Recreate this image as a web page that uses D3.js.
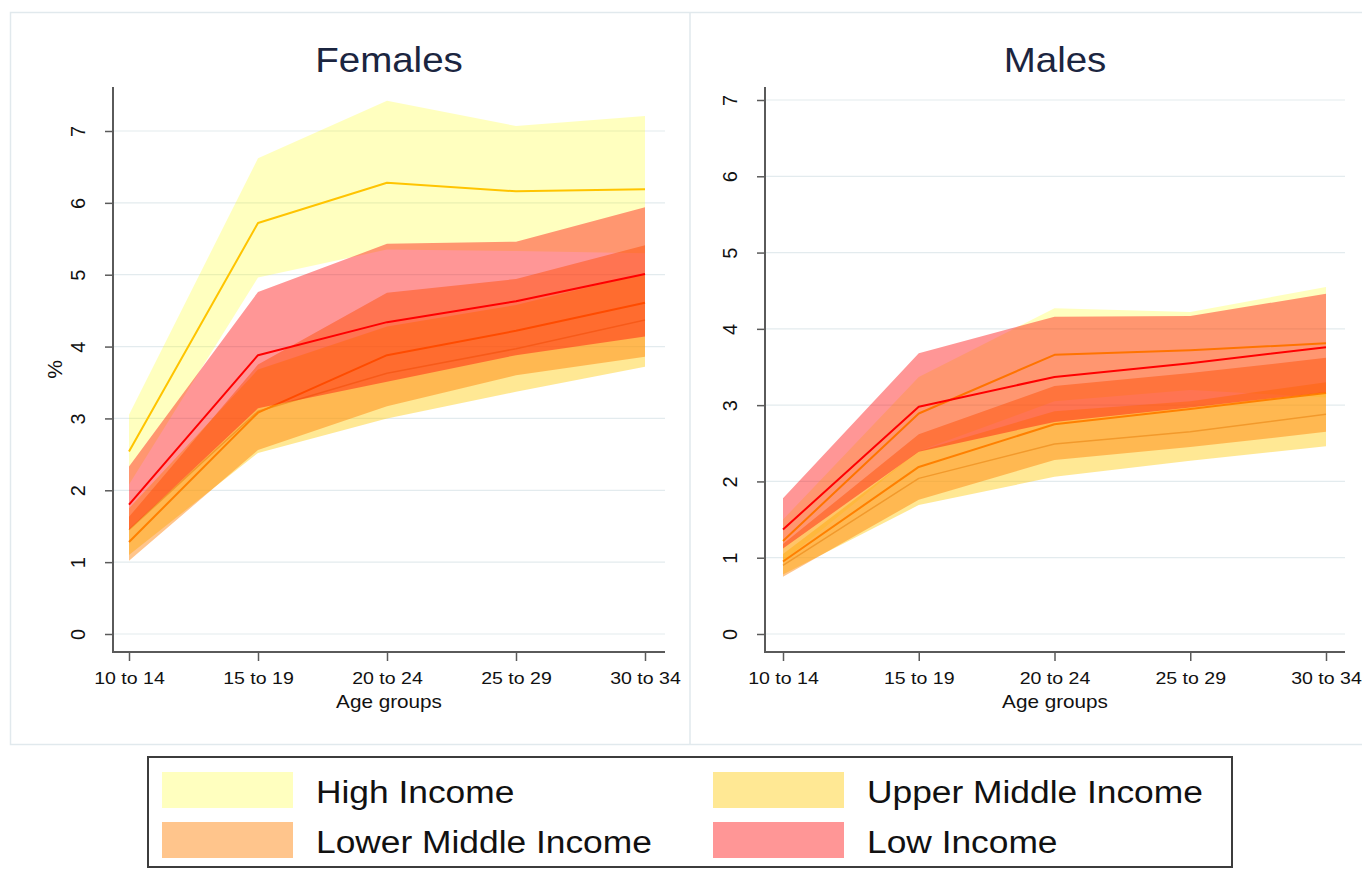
<!DOCTYPE html>
<html><head><meta charset="utf-8">
<script src="https://cdn.jsdelivr.net/npm/d3@7/dist/d3.min.js"></script>
<style>
body{margin:0;background:#fff;}
svg{display:block;font-family:"Liberation Sans",Arial,sans-serif;}
</style>
</head><body>
<svg id="chart" width="1362" height="870"></svg>
<script>
// ---------- DATA ----------
const ageGroups = ["10 to 14","15 to 19","20 to 24","25 to 29","30 to 34"];
const yTickValues = [0,1,2,3,4,5,6,7];
const incomeGroups = ["High Income","Upper Middle Income","Lower Middle Income","Low Income"];
const panelTitles = ["Females","Males"];
const xAxisTitle = "Age groups";
const yAxisTitle = "%";

// Females
const femHighMean = [2.54, 5.72, 6.28, 6.16, 6.19];
const femHighLow  = [2.08, 4.96, 5.35, 5.33, 5.30];
const femHighHigh = [3.05, 6.62, 7.42, 7.07, 7.21];
const femUpperMidMean = [1.45, 3.10, 3.63, 3.97, 4.37];
const femUpperMidLow  = [1.10, 2.52, 3.00, 3.37, 3.72];
const femUpperMidHigh = [1.75, 3.68, 4.28, 4.58, 5.02];
const femLowerMidMean = [1.28, 3.08, 3.88, 4.22, 4.61];
const femLowerMidLow  = [1.02, 2.56, 3.17, 3.60, 3.86];
const femLowerMidHigh = [1.63, 3.75, 4.75, 4.94, 5.41];
const femLowMean = [1.80, 3.88, 4.34, 4.63, 5.01];
const femLowLow  = [1.45, 3.14, 3.51, 3.88, 4.14];
const femLowHigh = [2.33, 4.76, 5.43, 5.46, 5.94];

// Males
const maleHighMean = [1.22, 2.89, 3.66, 3.72, 3.81];
const maleHighLow  = [0.95, 2.40, 3.05, 3.20, 3.10];
const maleHighHigh = [1.50, 3.37, 4.27, 4.22, 4.55];
const maleUpperMidMean = [0.90, 2.04, 2.49, 2.65, 2.88];
const maleUpperMidLow  = [0.78, 1.69, 2.06, 2.27, 2.46];
const maleUpperMidHigh = [1.05, 2.40, 2.92, 3.05, 3.30];
const maleLowerMidMean = [0.95, 2.19, 2.75, 2.95, 3.16];
const maleLowerMidLow  = [0.75, 1.76, 2.28, 2.45, 2.65];
const maleLowerMidHigh = [1.18, 2.62, 3.25, 3.42, 3.62];
const maleLowMean = [1.37, 2.98, 3.37, 3.55, 3.76];
const maleLowLow  = [1.12, 2.39, 2.78, 2.97, 3.17];
const maleLowHigh = [1.78, 3.68, 4.16, 4.17, 4.46];

// ---------- STYLE ----------
const bandFill   = ["#ffff00","#ffc800","#ff7f00","#ff0000"];
const bandAlpha  = [0.25, 0.42, 0.45, 0.41];
const lineColor  = ["#ffc400","#e8b050","#ff8000","#ff0000"];
const lineWidth  = [2, 1.5, 2, 2];

const femSeries = [
  {mean:femHighMean, lo:femHighLow, hi:femHighHigh},
  {mean:femUpperMidMean, lo:femUpperMidLow, hi:femUpperMidHigh},
  {mean:femLowerMidMean, lo:femLowerMidLow, hi:femLowerMidHigh},
  {mean:femLowMean, lo:femLowLow, hi:femLowHigh}
];
const maleSeries = [
  {mean:maleHighMean, lo:maleHighLow, hi:maleHighHigh},
  {mean:maleUpperMidMean, lo:maleUpperMidLow, hi:maleUpperMidHigh},
  {mean:maleLowerMidMean, lo:maleLowerMidLow, hi:maleLowerMidHigh},
  {mean:maleLowMean, lo:maleLowLow, hi:maleLowHigh}
];

const svg = d3.select("#chart");
svg.append("rect").attr("width",1362).attr("height",870).attr("fill","#fff");

// outer frame & divider
svg.append("rect").attr("x",10.5).attr("y",12.5).attr("width",1380).attr("height",732)
  .attr("fill","none").attr("stroke","#e1e9ed").attr("stroke-width",1.5);
svg.append("line").attr("x1",690).attr("x2",690).attr("y1",12).attr("y2",745)
  .attr("stroke","#e1e9ed").attr("stroke-width",1.5);

const panels = [
  {series:femSeries, title:panelTitles[0], xr:[129,645], yr:[634,131], axisX:113, right:665, top:87, yLabel:true},
  {series:maleSeries, title:panelTitles[1], xr:[783,1326], yr:[634,100], axisX:765, right:1345, top:87, yLabel:false}
];
const axisY = 652;
const axisColor = "#5a5a5a";
const textColor = "#111";
const stretch = 1.15;

panels.forEach(p => {
  const g = svg.append("g");
  const x = d3.scalePoint().domain(ageGroups).range(p.xr);
  const y = d3.scaleLinear().domain([0,7]).range(p.yr);

  // gridlines
  g.selectAll(".grid").data(yTickValues).join("line")
    .attr("x1",p.axisX).attr("x2",p.right)
    .attr("y1",d=>y(d)).attr("y2",d=>y(d))
    .attr("stroke","#e3ebee").attr("stroke-width",1.2);

  // bands and lines, drawn group by group
  p.series.forEach((s,i) => {
    const rows = ageGroups.map((a,k)=>({a, m:s.mean[k], lo:s.lo[k], hi:s.hi[k]}));
    const area = d3.area().x(d=>x(d.a)).y0(d=>y(d.lo)).y1(d=>y(d.hi));
    g.append("path").datum(rows).attr("d",area)
      .attr("fill",bandFill[i]).attr("fill-opacity",bandAlpha[i]).attr("stroke","none");
    const line = d3.line().x(d=>x(d.a)).y(d=>y(d.m));
    g.append("path").datum(rows).attr("d",line)
      .attr("fill","none").attr("stroke",lineColor[i]).attr("stroke-width",lineWidth[i])
      .attr("stroke-linejoin","round");
  });

  // x axis
  const xa = g.append("g").attr("transform",`translate(0,${axisY})`)
    .call(d3.axisBottom(x).tickSize(9).tickPadding(11));
  xa.select(".domain").remove();
  xa.selectAll(".tick line").attr("stroke",axisColor).attr("stroke-width",1.5);
  xa.selectAll(".tick text").attr("fill",textColor).style("font-size","17px")
    .style("font-family","'Liberation Sans',Arial,sans-serif")
    .attr("transform",`scale(${stretch},1)`);
  g.append("line").attr("x1",p.axisX).attr("x2",p.right).attr("y1",axisY).attr("y2",axisY)
    .attr("stroke",axisColor).attr("stroke-width",2);

  // y axis
  const ya = g.append("g").attr("transform",`translate(${p.axisX},0)`)
    .call(d3.axisLeft(y).tickValues(yTickValues).tickSize(8).tickFormat(d3.format("d")));
  ya.select(".domain").remove();
  ya.selectAll(".tick line").attr("stroke",axisColor).attr("stroke-width",1.5);
  ya.selectAll(".tick text")
    .attr("x",0).attr("dy",null)
    .attr("transform","translate(-35,0) rotate(-90)")
    .attr("text-anchor","middle").attr("dominant-baseline","central")
    .attr("fill",textColor).style("font-size","20px")
    .style("font-family","'Liberation Sans',Arial,sans-serif");
  g.append("line").attr("x1",p.axisX).attr("x2",p.axisX).attr("y1",p.top).attr("y2",axisY+1)
    .attr("stroke",axisColor).attr("stroke-width",2);

  // titles
  const cx = (p.axisX + p.right)/2;
  g.append("text").attr("transform",`translate(${cx},72) scale(1.1,1)`).attr("text-anchor","middle")
    .attr("fill","#1b2540").style("font-size","35px").text(p.title);
  g.append("text").attr("transform",`translate(${cx},708) scale(${stretch},1)`).attr("text-anchor","middle")
    .attr("fill",textColor).style("font-size","18px").text(xAxisTitle);
  if (p.yLabel) {
    g.append("text").attr("transform",`translate(54,${(p.top+axisY)/2}) rotate(-90)`)
      .attr("text-anchor","middle").attr("dominant-baseline","central")
      .attr("fill",textColor).style("font-size","21px").text(yAxisTitle);
  }
});

// legend
const lg = svg.append("g");
lg.append("rect").attr("x",148).attr("y",757).attr("width",1084).attr("height",110)
  .attr("fill","#fff").attr("stroke","#3c3c3c").attr("stroke-width",2);
const legPos = [[162,772],[713,772],[162,822],[713,822]];
incomeGroups.forEach((name,i) => {
  const [lx,ly] = legPos[i];
  lg.append("rect").attr("x",lx).attr("y",ly).attr("width",131).attr("height",36)
    .attr("fill",bandFill[i]).attr("fill-opacity",bandAlpha[i]);
  lg.append("text").attr("transform",`translate(${lx+154},${ly+31}) scale(1.14,1)`)
    .attr("fill",textColor).style("font-size","31px").text(name);
});
</script>
</body></html>
